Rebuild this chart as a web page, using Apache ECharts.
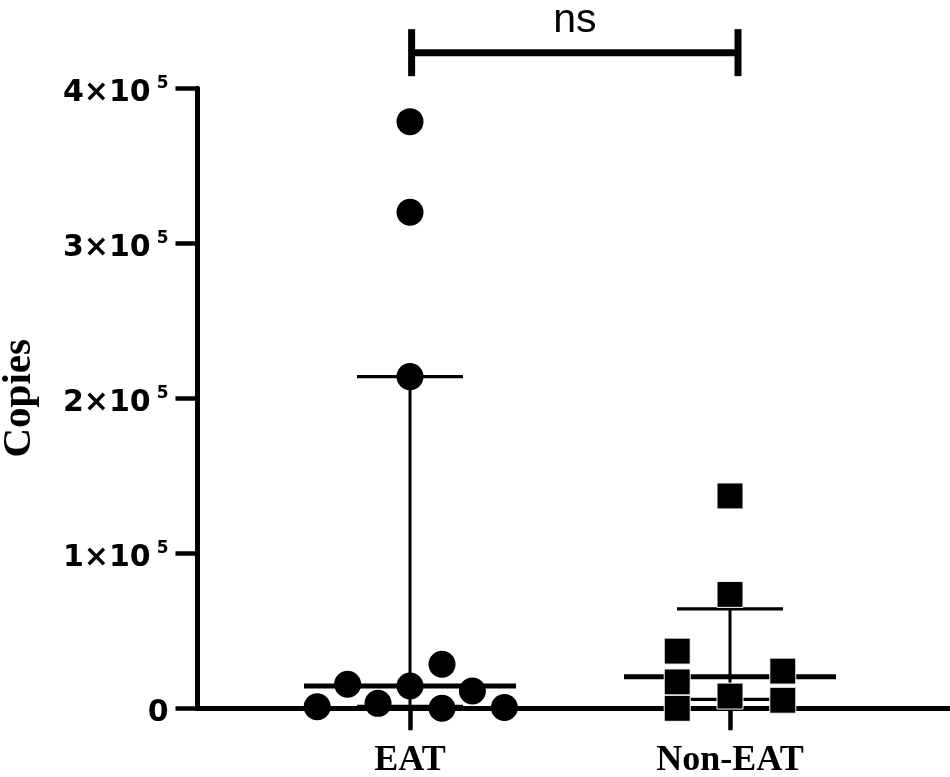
<!DOCTYPE html>
<html><head><meta charset="utf-8">
<script src="https://cdn.jsdelivr.net/npm/echarts@6/dist/echarts.min.js"></script>
<style>html,body{margin:0;padding:0;background:#fff}#c{width:950px;height:777px}</style>
</head><body><div id="c"></div>
<script>
// ---- data ----
const categories = ['EAT', 'Non-EAT'];
const categoryPos = [1, 2];
const eatX = [0.71, 0.805, 0.9, 1.0, 1.1, 1.1, 1.195, 1.295, 1.0, 1.0, 1.0];
const eatY = [1000, 15500, 3200, 14400, 28400, 0, 11200, 500, 214000, 320000, 378500];
const nonEatX = [2.0, 2.0, 2.0, 1.835, 1.835, 1.835, 2.165, 2.165];
const nonEatY = [137000, 73500, 7900, 36900, 17000, 0, 24000, 5200];
const medians = [14400, 20400];
const q1 = [1200, 5800];
const q3 = [214000, 64200];
const yTickBase = ['0', '1×10', '2×10', '3×10', '4×10'];
const yTickExp = ['', '5', '5', '5', '5'];
const sigPair = [1.005, 2.025];
const sigY = 423000;
const sigText = 'ns';
const yAxisName = 'Copies';

// ---- chart ----
const chart = echarts.init(document.getElementById('c'), null, {renderer: 'canvas'});
const errData = categoryPos.map((x, i) => [x, medians[i], q1[i], q3[i]]);

const option = {
  backgroundColor: '#fff',
  animation: false,
  grid: {left: 197.5, right: 0, top: 88.3, bottom: 68.7, containLabel: false, outerBoundsMode: 'none'},
  xAxis: {
    type: 'value', min: 0.3359, max: 2.6875,
    axisLine: {show: true, onZero: false, lineStyle: {color: '#000', width: 5}},
    axisTick: {show: true, customValues: categoryPos, length: 22, lineStyle: {color: '#000', width: 4.5}},
    axisLabel: {
      show: true, customValues: categoryPos, margin: 34,
      formatter: v => categories[categoryPos.indexOf(v)] || '',
      fontFamily: 'Liberation Serif', fontWeight: 'bold', fontSize: 36, color: '#000'
    },
    splitLine: {show: false}
  },
  yAxis: {
    type: 'value', min: 0, max: 400000, interval: 100000,
    name: yAxisName, nameLocation: 'middle', nameGap: 158,
    nameTextStyle: {fontFamily: 'Liberation Serif', fontWeight: 'bold', fontSize: 41, color: '#000'},
    axisLine: {show: true, onZero: false, lineStyle: {color: '#000', width: 5}},
    axisTick: {show: true, length: 22, lineStyle: {color: '#000', width: 4.5}},
    axisLabel: {
      margin: 29, padding: [10, 0, 0, 0],
      formatter: v => {
        const i = Math.round(v / 100000);
        return yTickExp[i] ? '{b|' + yTickBase[i] + '}{s|' + yTickExp[i] + '}' : '{b|' + yTickBase[i] + '}';
      },
      rich: {
        b: {fontFamily: 'DejaVu Sans', fontWeight: 'bold', fontSize: 30, lineHeight: 36, color: '#000'},
        s: {fontFamily: 'DejaVu Sans', fontWeight: 'bold', fontSize: 17, lineHeight: 8, verticalAlign: 'top', padding: [0, 0, 0, 6], color: '#000'}
      }
    },
    splitLine: {show: false}
  },
  series: [
    {
      type: 'custom', z: 2, clip: false, silent: true,
      data: errData,
      renderItem: (params, api) => {
        const x = api.value(0);
        const pm = api.coord([x, api.value(1)]);
        const pl = api.coord([x, api.value(2)]);
        const ph = api.coord([x, api.value(3)]);
        const mw = 106, ww = 53;
        const st = w => ({stroke: '#000', lineWidth: w});
        return {type: 'group', children: [
          {type: 'line', shape: {x1: ph[0], y1: ph[1], x2: pl[0], y2: pl[1]}, style: st(3)},
          {type: 'line', shape: {x1: ph[0] - ww, y1: ph[1], x2: ph[0] + ww, y2: ph[1]}, style: st(3.3)},
          {type: 'line', shape: {x1: pl[0] - ww, y1: pl[1], x2: pl[0] + ww, y2: pl[1]}, style: st(3.3)},
          {type: 'line', shape: {x1: pm[0] - mw, y1: pm[1], x2: pm[0] + mw, y2: pm[1]}, style: st(5)}
        ]};
      }
    },
    {
      type: 'scatter', z: 3, symbol: 'circle', symbolSize: 27,
      itemStyle: {color: '#000', opacity: 1},
      data: eatX.map((x, i) => [x, eatY[i]])
    },
    {
      type: 'scatter', z: 3, symbol: 'rect', symbolSize: 26,
      itemStyle: {color: '#000', opacity: 1, borderColor: '#fff', borderWidth: 1},
      data: nonEatX.map((x, i) => [x, nonEatY[i]])
    },
    {
      type: 'custom', z: 4, clip: false, silent: true,
      data: [[sigPair[0], sigPair[1], sigY]],
      renderItem: (params, api) => {
        const p1 = api.coord([api.value(0), api.value(2)]);
        const p2 = api.coord([api.value(1), api.value(2)]);
        const h = 23.5;
        const st = {stroke: '#000', lineWidth: 7};
        return {type: 'group', children: [
          {type: 'line', shape: {x1: p1[0], y1: p1[1], x2: p2[0], y2: p2[1]}, style: st},
          {type: 'line', shape: {x1: p1[0], y1: p1[1] - h, x2: p1[0], y2: p1[1] + h}, style: st},
          {type: 'line', shape: {x1: p2[0], y1: p2[1] - h, x2: p2[0], y2: p2[1] + h}, style: st},
          {type: 'text', x: (p1[0] + p2[0]) / 2, y: p1[1] - 32,
           style: {text: sigText, fill: '#000', font: '41px "Liberation Sans"', align: 'center', verticalAlign: 'middle'}}
        ]};
      }
    }
  ]
};
chart.setOption(option);
</script></body></html>
